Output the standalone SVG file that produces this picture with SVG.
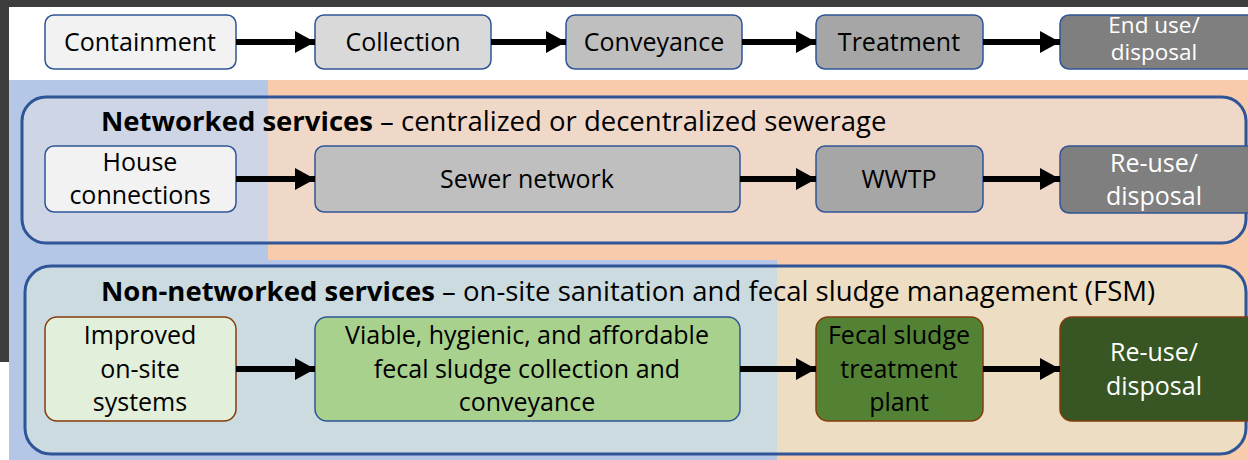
<svg xmlns="http://www.w3.org/2000/svg" width="1248" height="460" viewBox="0 0 1248 460">
<defs>
<marker id="ah" markerUnits="userSpaceOnUse" markerWidth="22" markerHeight="24" viewBox="0 0 22 24" refX="20" refY="12" orient="auto">
<path d="M0,1 L20,12 L0,23 Z" fill="#000"/>
</marker>
<style>
text{font-family:"Open Sans","Liberation Sans",sans-serif;font-size:25px;fill:#000;text-anchor:middle}
.w{fill:#fff}
.sm{font-size:22.5px}
.title{text-anchor:start;font-size:27.5px}
.b{font-weight:bold}
.box{stroke:#2f5597;stroke-width:1.5}
.brn{stroke:#843c0c;stroke-width:1.5}
.cont{stroke:#2f5597;stroke-width:3}
.conn line{stroke:#000;stroke-width:6;marker-end:url(#ah)}
</style>
</defs>
<!-- background -->
<rect x="0" y="0" width="1248" height="460" fill="#fff"/>
<rect x="9" y="80" width="259" height="380" fill="#b4c7e7"/>
<rect x="268" y="80" width="980" height="180" fill="#f8cbad"/>
<rect x="268" y="260" width="509" height="200" fill="#b4c7e7"/>
<rect x="777" y="260" width="471" height="200" fill="#f8cbad"/>
<rect x="0" y="0" width="1248" height="7" fill="#3d3d3d"/>
<rect x="0" y="0" width="9" height="362" fill="#3d3d3d"/>

<!-- containers -->
<g id="networked">
<rect class="cont" x="22" y="97" width="1224" height="146" rx="24" fill="#e7e6e6" fill-opacity="0.5"/>
<text class="title" x="101" y="131"><tspan class="b">Networked services</tspan> – centralized or decentralized sewerage</text>
</g>
<g id="nonnetworked">
<rect class="cont" x="25" y="266" width="1221" height="188" rx="26" fill="#e2efda" fill-opacity="0.5"/>
<text class="title" x="101" y="301"><tspan class="b">Non-networked services</tspan> – on-site sanitation and fecal sludge management (FSM)</text>
</g>

<!-- top row -->
<g id="containment"><rect class="box" x="45" y="15" width="191" height="54" rx="9" fill="#f2f2f2"/><text x="140" y="51">Containment</text></g>
<g id="collection"><rect class="box" x="315" y="15" width="176" height="54" rx="9" fill="#d9d9d9"/><text x="403" y="51">Collection</text></g>
<g id="conveyance"><rect class="box" x="566" y="15" width="176" height="54" rx="9" fill="#bfbfbf"/><text x="654" y="51">Conveyance</text></g>
<g id="treatment"><rect class="box" x="816" y="15" width="167" height="54" rx="9" fill="#a6a6a6"/><text x="899" y="51">Treatment</text></g>
<g id="enduse"><rect class="box" x="1060" y="15" width="200" height="54" rx="9" fill="#7f7f7f"/><text class="w sm" x="1154" y="33">End use/</text><text class="w sm" x="1154" y="60">disposal</text></g>

<!-- networked row -->
<g id="house"><rect class="box" x="45" y="146" width="191" height="66" rx="9" fill="#f2f2f2"/><text x="140" y="171">House</text><text x="140" y="204">connections</text></g>
<g id="sewer"><rect class="box" x="315" y="146" width="425" height="66" rx="9" fill="#bfbfbf"/><text x="527" y="188">Sewer network</text></g>
<g id="wwtp"><rect class="box" x="816" y="146" width="167" height="66" rx="9" fill="#a6a6a6"/><text x="899" y="188">WWTP</text></g>
<g id="reuse1"><rect class="box" x="1060" y="146" width="200" height="67" rx="9" fill="#7f7f7f"/><text class="w" x="1154" y="172">Re-use/</text><text class="w" x="1154" y="205">disposal</text></g>

<!-- non-networked row -->
<g id="improved"><rect class="brn" x="45" y="317" width="191" height="104" rx="12" fill="#e2efda"/><text x="140" y="344">Improved</text><text x="140" y="378">on-site</text><text x="140" y="411">systems</text></g>
<g id="viable"><rect class="box" x="315" y="317" width="425" height="104" rx="12" fill="#a9d18e"/><text x="527" y="344">Viable, hygienic, and affordable</text><text x="527" y="378">fecal sludge collection and</text><text x="527" y="411">conveyance</text></g>
<g id="fstp"><rect class="brn" x="816" y="317" width="167" height="104" rx="12" fill="#548235"/><text x="899" y="344">Fecal sludge</text><text x="899" y="378">treatment</text><text x="899" y="411">plant</text></g>
<g id="reuse2"><rect class="brn" x="1060" y="317" width="200" height="104" rx="12" fill="#375623"/><text class="w" x="1154" y="361">Re-use/</text><text class="w" x="1154" y="395">disposal</text></g>

<!-- connectors -->
<g class="conn" id="connectors">
<line x1="236" y1="42" x2="315" y2="42"/>
<line x1="491" y1="42" x2="566" y2="42"/>
<line x1="742" y1="42" x2="816" y2="42"/>
<line x1="983" y1="42" x2="1060" y2="42"/>
<line x1="236" y1="179" x2="315" y2="179"/>
<line x1="740" y1="179" x2="816" y2="179"/>
<line x1="983" y1="179" x2="1060" y2="179"/>
<line x1="236" y1="369" x2="315" y2="369"/>
<line x1="740" y1="369" x2="816" y2="369"/>
<line x1="983" y1="369" x2="1060" y2="369"/>
</g>
</svg>
